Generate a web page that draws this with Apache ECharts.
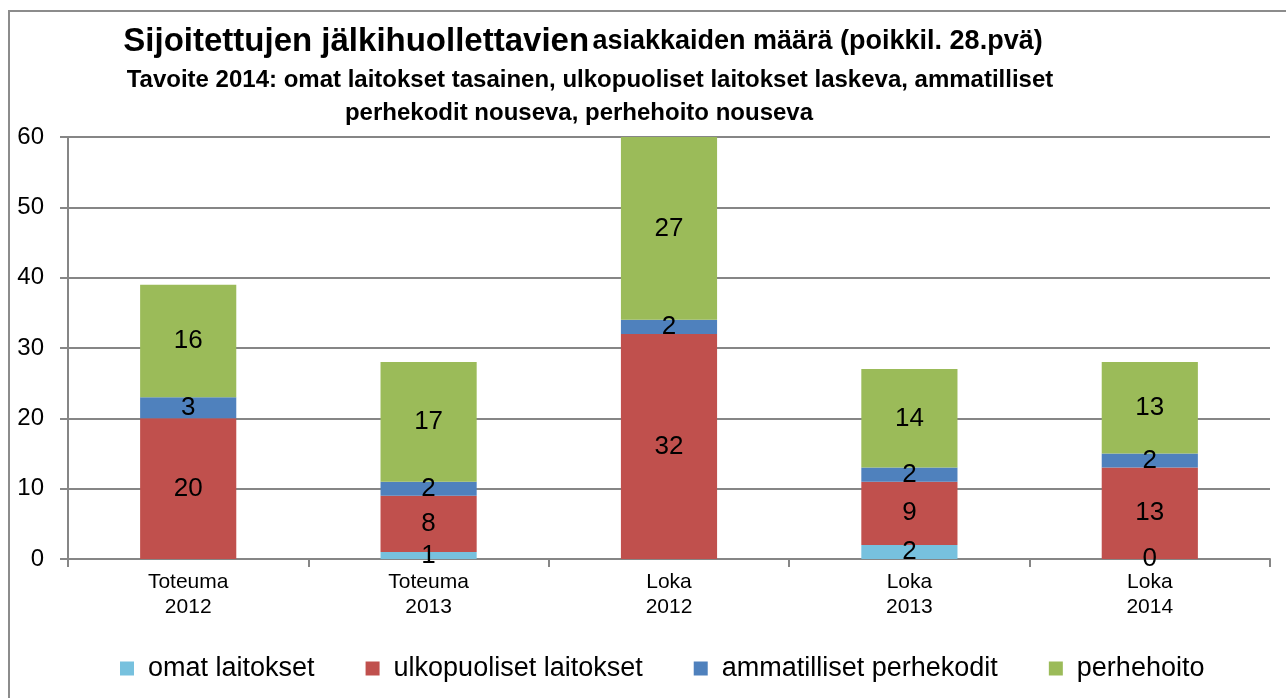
<!DOCTYPE html>
<html>
<head>
<meta charset="utf-8">
<script src="https://cdn.jsdelivr.net/npm/echarts@6/dist/echarts.min.js"></script>
<style>
html, body { margin:0; padding:0; background:#fff; }
#container { width:1286px; height:698px; }
</style>
</head>
<body>
<div id="container"></div>
<script type="text/javascript">
var categories = ['Toteuma\n2012', 'Toteuma\n2013', 'Loka\n2012', 'Loka\n2013', 'Loka\n2014'];
var omat = [null, 1, null, 2, 0];
var ulkopuoliset = [20, 8, 32, 9, 13];
var ammatilliset = [3, 2, 2, 2, 2];
var perhehoito = [16, 17, 27, 14, 13];
var yTicks = [0, 10, 20, 30, 40, 50, 60];

var titleFont = '"Liberation Sans", Arial, sans-serif';
var labelFont = '"Liberation Sans", Arial, sans-serif';

var myChart = echarts.init(document.getElementById('container'));

function barSeries(name, data, color) {
	return {
		name: name,
		type: 'bar',
		stack: 'total',
		barCategoryGap: '60%',
		data: data,
		itemStyle: { color: color },
		label: {
			show: true,
			position: 'inside',
			color: '#000',
			fontFamily: labelFont,
			fontSize: 26
		}
	};
}

var option = {
	animation: false,
	textStyle: { fontFamily: labelFont },
	graphic: [
		{
			type: 'rect',
			shape: { x: 9, y: 11, width: 1300, height: 720 },
			style: { fill: 'none', stroke: '#8c8c8c', lineWidth: 2 }
		},
		{
			type: 'text',
			x: 583, y: 42,
			style: {
				text: '{a|Sijoitettujen jälkihuollettavien} {b|asiakkaiden määrä (poikkil. 28.pvä)}',
				align: 'center', verticalAlign: 'middle',
				rich: {
					a: { fontFamily: titleFont, fontWeight: 'bold', fontSize: 33, fill: '#000' },
					b: { fontFamily: titleFont, fontWeight: 'bold', fontSize: 27, fill: '#000' }
				}
			}
		},
		{
			type: 'text',
			x: 590, y: 80,
			style: {
				text: 'Tavoite 2014: omat laitokset tasainen, ulkopuoliset laitokset laskeva, ammatilliset',
				align: 'center', verticalAlign: 'middle',
				font: 'bold 24px ' + titleFont, fill: '#000'
			}
		},
		{
			type: 'text',
			x: 579, y: 113,
			style: {
				text: 'perhekodit nouseva, perhehoito nouseva',
				align: 'center', verticalAlign: 'middle',
				font: 'bold 24px ' + titleFont, fill: '#000'
			}
		}
	],
	legend: {
		top: 650,
		left: 115,
		itemWidth: 14,
		itemHeight: 14,
		itemGap: 51,
		icon: 'rect',
		textStyle: { fontSize: 27, color: '#000', fontFamily: labelFont, padding: [0, 0, 0, 9] },
		data: ['omat laitokset', 'ulkopuoliset laitokset', 'ammatilliset perhekodit', 'perhehoito']
	},
	grid: { left: 68, right: 16, top: 137, bottom: 139, containLabel: false },
	xAxis: {
		type: 'category',
		data: categories,
		axisLine: { lineStyle: { color: '#868686', width: 2 } },
		axisTick: { show: true, length: 8, lineStyle: { color: '#868686', width: 2 } },
		axisLabel: { color: '#000', fontSize: 21, lineHeight: 25, margin: 11, fontFamily: labelFont }
	},
	yAxis: {
		type: 'value',
		min: yTicks[0],
		max: yTicks[yTicks.length - 1],
		interval: 10,
		axisLine: { show: true, lineStyle: { color: '#868686', width: 2 } },
		axisTick: { show: true, length: 8, lineStyle: { color: '#868686', width: 2 } },
		axisLabel: { color: '#000', fontSize: 24, margin: 24, fontFamily: labelFont },
		splitLine: { lineStyle: { color: '#868686', width: 2 } }
	},
	series: [
		barSeries('omat laitokset', omat, '#77c1de'),
		barSeries('ulkopuoliset laitokset', ulkopuoliset, '#c0504d'),
		barSeries('ammatilliset perhekodit', ammatilliset, '#4f81bd'),
		barSeries('perhehoito', perhehoito, '#9bbb59')
	]
};
myChart.setOption(option);
</script>
</body>
</html>
